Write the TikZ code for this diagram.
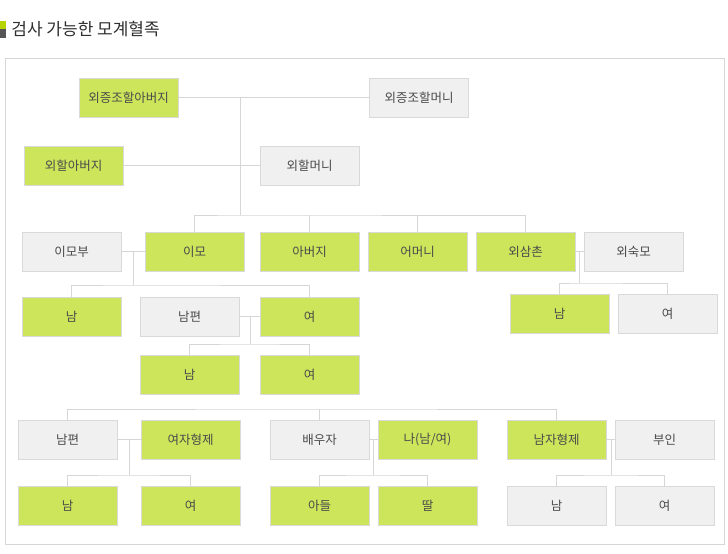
\documentclass[tikz,border=0pt]{standalone}
\usepackage{fontspec}
\setmainfont{Noto Sans CJK KR}
\usetikzlibrary{calc,shadows}
\definecolor{hitgreen}{HTML}{CDE55B}
\definecolor{plaingray}{HTML}{F0F0F0}
\definecolor{edgegray}{HTML}{D9D9D9}
\definecolor{linegray}{HTML}{D6D6D6}
\definecolor{txtgray}{HTML}{4A4A4A}
\definecolor{titlegray}{HTML}{2E2E2E}
\definecolor{markgreen}{HTML}{B8D400}
\definecolor{markgray}{HTML}{555555}
\begin{document}
\begin{tikzpicture}[x=1pt,y=-1pt,line width=0.8pt,
  member/.style={draw=edgegray,minimum width=99pt,minimum height=39pt,inner sep=0pt,
    text=txtgray,font=\fontsize{12.5}{14}\selectfont,
    drop shadow={shadow xshift=0.8pt,shadow yshift=-1.4pt,fill=black,opacity=0.1}},
  testable/.style={member,fill=hitgreen},
  other/.style={member,fill=plaingray},
  link/.style={draw=linegray}]
  \useasboundingbox (0,0) rectangle (728,554);
  % title
  \fill[markgreen] (0,21) rectangle (6,29);
  \fill[markgray] (0,29) rectangle (6,38);
  \node[anchor=west,inner sep=0pt,text=titlegray,font=\fontsize{17}{19}\selectfont] (title) at (11,29.5) {검사 가능한 모계혈족};
  \draw[linegray] (5,58) rectangle (724,544);
  % great-grandparents, grandparents
  \node[testable] (ggf) at (128.5,97.5) {외증조할아버지};
  \node[other] (ggm) at (419,97.5) {외증조할머니};
  \node[testable] (gf) at (73.5,165.5) {외할아버지};
  \node[other] (gm) at (309.5,165.5) {외할머니};
  % parents' generation
  \node[other] (imobu) at (71.5,251.5) {이모부};
  \node[testable] (imo) at (194.5,251.5) {이모};
  \node[testable] (father) at (309.5,251.5) {아버지};
  \node[testable] (mother) at (417.5,251.5) {어머니};
  \node[testable] (uncle) at (525.5,251.5) {외삼촌};
  \node[other] (aunt) at (633.5,251.5) {외숙모};
  % cousins
  \node[testable] (imoson) at (71.5,316.5) {남};
  \node[other] (cousinhus) at (189.5,316.5) {남편};
  \node[testable] (imodau) at (309.5,316.5) {여};
  \node[testable] (cson) at (189.5,374.5) {남};
  \node[testable] (cdau) at (309.5,374.5) {여};
  \node[testable] (uncleson) at (559.5,313.5) {남};
  \node[other] (uncledau) at (667.5,313.5) {여};
  % own generation
  \node[other] (sishus) at (67.5,439.5) {남편};
  \node[testable] (sister) at (190.5,439.5) {여자형제};
  \node[other] (spouse) at (319.5,439.5) {배우자};
  \node[testable] (me) at (427.5,439.5) {나(남/여)};
  \node[testable] (brother) at (556.5,439.5) {남자형제};
  \node[other] (browife) at (664.5,439.5) {부인};
  % children
  \node[testable] (sisson) at (67.5,505.5) {남};
  \node[testable] (sisdau) at (190.5,505.5) {여};
  \node[testable] (son) at (319.5,505.5) {아들};
  \node[testable] (daughter) at (427.5,505.5) {딸};
  \node[other] (broson) at (556.5,505.5) {남};
  \node[other] (brodau) at (664.5,505.5) {여};
  % links
  \coordinate (top) at (240,97.5);
  \coordinate (bar1) at (240,215);
  \draw[link] (ggf) -- (ggm);
  \draw[link] (gf) -- (gm);
  \draw[link] (top) -- (bar1);
  \draw[link] (imo.north) |- (bar1) -| (uncle.north);
  \draw[link] (father.north) -- (father.north |- bar1);
  \draw[link] (mother.north) -- (mother.north |- bar1);
  \coordinate (c1) at (133,251.5);
  \coordinate (bar2) at (133,285);
  \draw[link] (imobu) -- (imo);
  \draw[link] (c1) -- (bar2);
  \draw[link] (imoson.north) |- (bar2) -| (imodau.north);
  \coordinate (c2) at (250,316.5);
  \coordinate (bar3) at (250,344);
  \draw[link] (cousinhus) -- (imodau);
  \draw[link] (c2) -- (bar3);
  \draw[link] (cson.north) |- (bar3) -| (cdau.north);
  \coordinate (c3) at (579.5,251.5);
  \coordinate (bar4) at (579.5,283);
  \draw[link] (uncle) -- (aunt);
  \draw[link] (c3) -- (bar4);
  \draw[link] (uncleson.north) |- (bar4) -| (uncledau.north);
  \coordinate (bar5) at (320,409);
  \draw[link] (sishus.north) |- (bar5) -| (brother.north);
  \draw[link] (spouse.north) -- (spouse.north |- bar5);
  \coordinate (c5) at (129,439.5);
  \coordinate (bar6) at (129,475);
  \draw[link] (sishus) -- (sister);
  \draw[link] (c5) -- (bar6);
  \draw[link] (sisson.north) |- (bar6) -| (sisdau.north);
  \coordinate (c6) at (373,439.5);
  \coordinate (bar7) at (373,475);
  \draw[link] (spouse) -- (me);
  \draw[link] (c6) -- (bar7);
  \draw[link] (son.north) |- (bar7) -| (daughter.north);
  \coordinate (c7) at (611,439.5);
  \coordinate (bar8) at (611,475);
  \draw[link] (brother) -- (browife);
  \draw[link] (c7) -- (bar8);
  \draw[link] (broson.north) |- (bar8) -| (brodau.north);
\end{tikzpicture}
\end{document}
